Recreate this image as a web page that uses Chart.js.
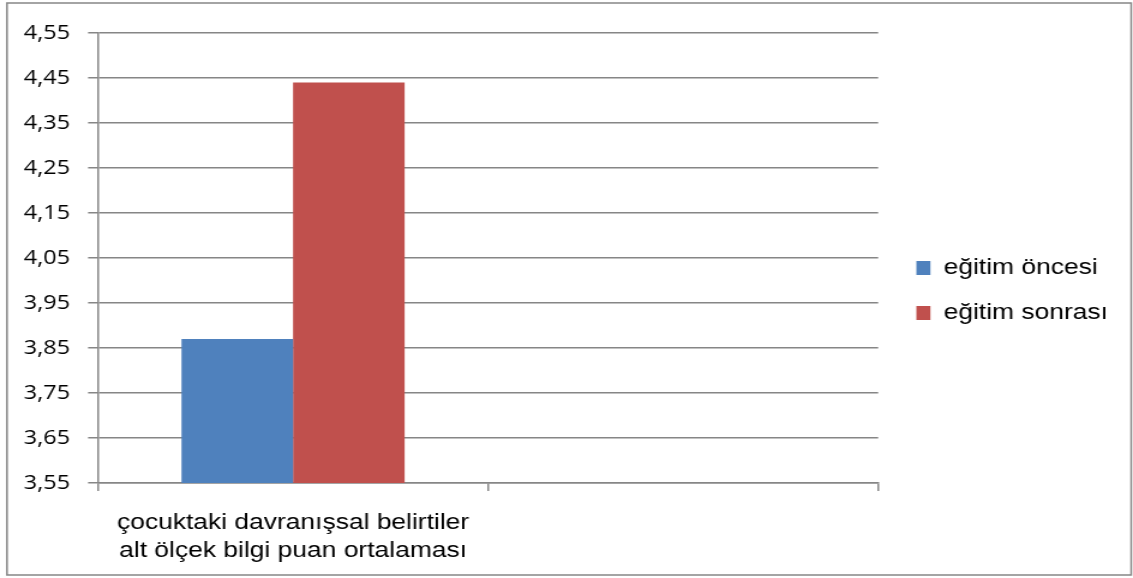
<!DOCTYPE html>
<html>
<head>
<meta charset="utf-8">
<script src="https://cdn.jsdelivr.net/npm/chart.js@4/dist/chart.umd.min.js"></script>
<style>
  html, body { margin: 0; padding: 0; background: #fff; }
  #grafik { display: block; width: 1133px; height: 578px; }
</style>
</head>
<body>
<canvas id="grafik" width="944" height="578" style="width:1133px;height:578px"></canvas>
<script>
// data
const kategori = [
  ["çocuktaki davranışsal belirtiler", "alt ölçek bilgi puan ortalaması"],
  ""
];
const seriAdi = ["eğitim öncesi", "eğitim sonrası"];
const egitimOncesi = [3.87, null];
const egitimSonrasi = [4.44, null];
const yMin = 3.55, yMax = 4.55, yStep = 0.1;

const abu = "#868686";
const fontTeks = "'Liberation Sans', Arial, sans-serif";

// kotak luar + posisi legenda
const bingkai = {
  id: "bingkai",
  beforeInit(chart) {
    const fitAsli = chart.legend.fit;
    chart.legend.fit = function () {
      fitAsli.bind(chart.legend)();
      this.width = 944 - 731.67;
    };
  },
  afterLayout(chart) {
    const lg = chart.legend;
    const h = lg.bottom - lg.top, w = lg.right - lg.left;
    lg.top = 290.5 - h / 2;
    lg.bottom = lg.top + h;
    lg.left = 763.5 - lg.options.labels.padding;
    lg.right = lg.left + w;
  },
  beforeDraw(chart) {
    const c = chart.ctx;
    c.save();
    c.fillStyle = "#fff";
    c.fillRect(0, 0, chart.width, chart.height);
    c.strokeStyle = abu;
    c.lineWidth = 1.5;
    c.strokeRect(5.8, 3, 942.5 - 5.8, 572);
    c.restore();
  }
};

new Chart(document.getElementById("grafik"), {
  type: "bar",
  data: {
    labels: kategori,
    datasets: [
      { label: seriAdi[0], data: egitimOncesi, backgroundColor: "#4F81BD", borderWidth: 0 },
      { label: seriAdi[1], data: egitimSonrasi, backgroundColor: "#C0504D", borderWidth: 0 }
    ]
  },
  options: {
    responsive: false,
    animation: false,
    devicePixelRatio: 1,
    layout: { padding: { top: 33, left: 0, right: 0, bottom: 0 } },
    datasets: { bar: { categoryPercentage: 0.572, barPercentage: 1 } },
    plugins: {
      tooltip: { enabled: false },
      legend: {
        position: "right",
        labels: {
          color: "#000",
          font: { family: fontTeks, size: 22 },
          boxWidth: 11.7,
          boxHeight: 14,
          padding: 23
        }
      }
    },
    scales: {
      x: {
        grid: { drawOnChartArea: false, color: abu, lineWidth: 1.5, tickLength: 8, offset: true },
        border: { display: true, color: abu, width: 1.5 },
        ticks: {
          color: "#000",
          padding: 18,
          maxRotation: 0,
          autoSkip: false,
          font: { family: fontTeks, size: 22, lineHeight: 1.27 }
        },
        afterFit(s) { s.height = 95; }
      },
      y: {
        min: yMin,
        max: yMax,
        grid: { color: abu, lineWidth: 1.5, tickLength: 8.3 },
        border: { display: true, color: abu, width: 1.5 },
        ticks: {
          stepSize: yStep,
          color: "#000",
          padding: 15,
          font: { family: "'Open Sans', sans-serif", size: 19.5 },
          callback: v => v.toFixed(2).replace(".", ",")
        },
        afterFit(s) { s.width = 81.67; }
      }
    }
  },
  plugins: [bingkai]
});
</script>
</body>
</html>
